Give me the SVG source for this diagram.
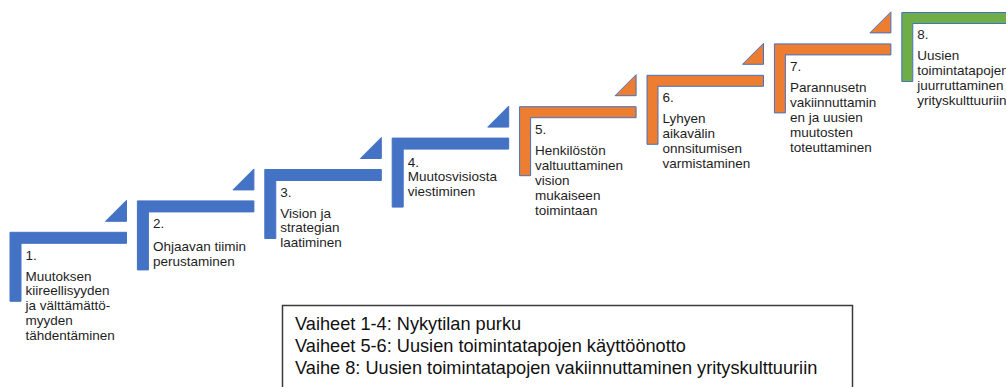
<svg xmlns="http://www.w3.org/2000/svg" width="1006" height="387" viewBox="0 0 1006 387">
  <style>
    .blue { fill: #4472C4; stroke: #4472C4; stroke-width: 1; }
    .orange { fill: #ED7D31; stroke: #4472C4; stroke-width: 1; }
    .green { fill: #70AD47; stroke: #4472C4; stroke-width: 1; }
    .lbl { font-family: "Liberation Sans", Arial, sans-serif; font-size: 13.5px; fill: #1e1e1e; }
    .leg { font-family: "Liberation Sans", Arial, sans-serif; font-size: 18.2px; fill: #111; }
  </style>
  <defs>
    <path id="corner" d="M0 0 h116.5 v11 h-105.5 v58 h-11 z"/>
    <path id="tri" d="M116.5 -32 L116.5 -11 L95.5 -11 z"/>
  </defs>
  <rect width="1006" height="387" fill="#ffffff"/>
  <g id="connectors"></g>

  <g id="step1" transform="translate(10,232.3)">
    <use href="#corner" class="blue"/>
    <use href="#tri" class="blue"/>
    <text class="lbl" x="15.5" y="27.5">1.</text>
    <text class="lbl" x="15.5" y="48.5">Muutoksen<tspan x="15.5" dy="14.7">kiireellisyyden</tspan><tspan x="15.5" dy="14.7">ja välttämättö-</tspan><tspan x="15.5" dy="14.7">myyden</tspan><tspan x="15.5" dy="14.7">tähdentäminen</tspan></text>
  </g>

  <g id="step2" transform="translate(137.4,200.9)">
    <use href="#corner" class="blue"/>
    <use href="#tri" class="blue"/>
    <text class="lbl" x="15.5" y="27.5">2.</text>
    <text class="lbl" x="15.5" y="50">Ohjaavan tiimin<tspan x="15.5" dy="14.7">perustaminen</tspan></text>
  </g>

  <g id="step3" transform="translate(264.8,169.5)">
    <use href="#corner" class="blue"/>
    <use href="#tri" class="blue"/>
    <text class="lbl" x="15.5" y="27.5">3.</text>
    <text class="lbl" x="15.5" y="48">Vision ja<tspan x="15.5" dy="14.7">strategian</tspan><tspan x="15.5" dy="14.7">laatiminen</tspan></text>
  </g>

  <g id="step4" transform="translate(392.2,138.1)">
    <use href="#corner" class="blue"/>
    <use href="#tri" class="blue"/>
    <text class="lbl" x="15.5" y="28.5">4.</text>
    <text class="lbl" x="15.5" y="43">Muutosvisiosta<tspan x="15.5" dy="14.7">viestiminen</tspan></text>
  </g>

  <g id="step5" transform="translate(519.6,106.7)">
    <use href="#corner" class="orange"/>
    <use href="#tri" class="orange"/>
    <text class="lbl" x="15.5" y="27.5">5.</text>
    <text class="lbl" x="15.5" y="48.5">Henkilöstön<tspan x="15.5" dy="14.9">valtuuttaminen</tspan><tspan x="15.5" dy="14.9">vision</tspan><tspan x="15.5" dy="14.9">mukaiseen</tspan><tspan x="15.5" dy="14.9">toimintaan</tspan></text>
  </g>

  <g id="step6" transform="translate(647,75.3)">
    <use href="#corner" class="orange"/>
    <use href="#tri" class="orange"/>
    <text class="lbl" x="15.5" y="27">6.</text>
    <text class="lbl" x="15.5" y="48">Lyhyen<tspan x="15.5" dy="14.9">aikavälin</tspan><tspan x="15.5" dy="14.9">onnsitumisen</tspan><tspan x="15.5" dy="14.9">varmistaminen</tspan></text>
  </g>

  <g id="step7" transform="translate(774.4,43.9)">
    <use href="#corner" class="orange"/>
    <use href="#tri" class="orange"/>
    <text class="lbl" x="15.5" y="27.5">7.</text>
    <text class="lbl" x="15.5" y="48.5">Parannusetn<tspan x="15.5" dy="14.9">vakiinnuttamin</tspan><tspan x="15.5" dy="14.9">en ja uusien</tspan><tspan x="15.5" dy="14.9">muutosten</tspan><tspan x="15.5" dy="14.9">toteuttaminen</tspan></text>
  </g>

  <g id="step8" transform="translate(901.8,12.5)">
    <use href="#corner" class="green"/>
    <text class="lbl" x="15.5" y="26">8.</text>
    <text class="lbl" x="15.5" y="47.5">Uusien<tspan x="15.5" dy="14.9">toimintatapojen</tspan><tspan x="15.5" dy="14.9">juurruttaminen</tspan><tspan x="15.5" dy="14.9">yrityskulttuuriin</tspan></text>
  </g>

  <g id="legend">
    <rect x="282.5" y="305.5" width="570" height="100" fill="#ffffff" stroke="#3a3a3a" stroke-width="1.5"/>
    <text class="leg" x="295" y="329.5">Vaiheet 1-4: Nykytilan purku</text>
    <text class="leg" x="295" y="351.8">Vaiheet 5-6: Uusien toimintatapojen käyttöönotto</text>
    <text class="leg" x="295" y="374">Vaihe 8: Uusien toimintatapojen vakiinnuttaminen yrityskulttuuriin</text>
  </g>
</svg>
